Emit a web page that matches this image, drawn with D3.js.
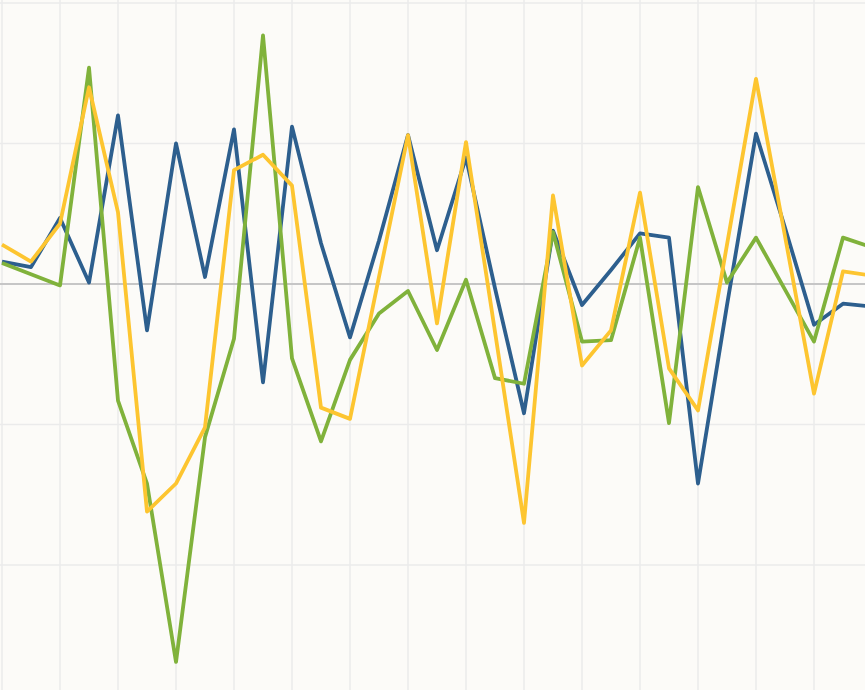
<!DOCTYPE html>
<html>
<head>
<meta charset="utf-8">
<script src="https://cdn.jsdelivr.net/npm/d3@7"></script>
<style>
  html, body { margin: 0; padding: 0; background: #fcfbf8; overflow: hidden; }
</style>
</head>
<body>
<script>
var width = 865;
var height = 690;

// one value per step
var blueValues = [0.16, 0.12, 0.47, 0.01, 1.20, -0.33, 1.00, 0.05, 1.10, -0.70,
    1.12, 0.29, -0.38, 0.31, 1.06, 0.24, 0.90, -0.03, -0.92, 0.38,
    -0.15, 0.10, 0.36, 0.33, -1.42, -0.15, 1.07, 0.40, -0.29, -0.14, -0.16];

var greenValues = [0.15, 0.07, -0.01, 1.54, -0.83, -1.42, -2.69, -1.09, -0.39, 1.77,
    -0.53, -1.12, -0.54, -0.21, -0.05, -0.47, 0.03, -0.67, -0.71, 0.37,
    -0.41, -0.40, 0.33, -0.99, 0.69, 0.01, 0.33, -0.04, -0.41, 0.33, 0.26];

var yellowValues = [0.28, 0.16, 0.43, 1.40, 0.51, -1.62, -1.42, -1.02, 0.81, 0.92,
    0.70, -0.88, -0.96, 0.05, 1.06, -0.28, 1.01, -0.34, -1.70, 0.63,
    -0.58, -0.33, 0.65, -0.60, -0.90, 0.28, 1.46, 0.34, -0.78, 0.09, 0.06];

var yTicks = [-3, -2, -1, 0, 1, 2];
var xTicks = d3.range(0, 31, 2);

var series = [
    {name: "blue", values: blueValues, color: "#2d5f8e"},
    {name: "green", values: greenValues, color: "#80b23b"},
    {name: "yellow", values: yellowValues, color: "#fdc530"}
];

var svg = d3.select("body").append("svg")
    .attr("width", width)
    .attr("height", height);

svg.append("rect")
    .attr("width", width)
    .attr("height", height)
    .attr("fill", "#fcfbf8");

var x = d3.scaleLinear()
    .domain([0, 30])
    .range([2, 872]);

var y = d3.scaleLinear()
    .domain([0, 1])
    .range([284, 143.5]);

// gridlines
svg.append("g")
    .selectAll("line.vgrid")
    .data(xTicks)
    .enter().append("line")
    .attr("class", "vgrid")
    .attr("x1", function(d) { return x(d); })
    .attr("x2", function(d) { return x(d); })
    .attr("y1", 0)
    .attr("y2", height)
    .attr("stroke", "#ebebeb")
    .attr("stroke-width", 1.5);

svg.append("g")
    .selectAll("line.hgrid")
    .data(yTicks)
    .enter().append("line")
    .attr("class", "hgrid")
    .attr("x1", 0)
    .attr("x2", width)
    .attr("y1", function(d) { return y(d); })
    .attr("y2", function(d) { return y(d); })
    .attr("stroke", function(d) { return d === 0 ? "#c6c6c6" : "#ebebeb"; })
    .attr("stroke-width", function(d) { return d === 0 ? 2 : 1.5; });

var line = d3.line()
    .x(function(d, i) { return x(i); })
    .y(function(d) { return y(d); });

svg.selectAll("path.series")
    .data(series)
    .enter().append("path")
    .attr("class", "series")
    .attr("d", function(d) { return line(d.values); })
    .attr("fill", "none")
    .attr("stroke", function(d) { return d.color; })
    .attr("stroke-width", 3.8)
    .attr("stroke-linejoin", "round");
</script>
</body>
</html>
